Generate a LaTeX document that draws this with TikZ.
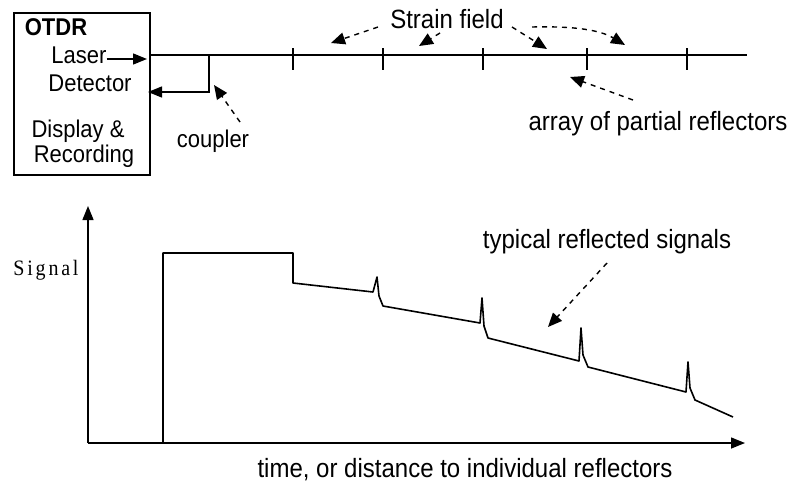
\documentclass[tikz,border=0pt]{standalone}
\usepackage{fontspec}
\setmainfont{Liberation Sans}
\newfontfamily\sigfont[LetterSpace=14]{Liberation Serif}
\usetikzlibrary{arrows.meta,positioning}
\tikzset{
lbl/.style={inner sep=0pt,anchor=base,yscale=1.1,font=\fontsize{24}{27}\selectfont},
boxlbl/.style={inner sep=0pt,anchor=base,yscale=1.1,font=\fontsize{22}{25}\selectfont},
arrow/.style={-{Triangle[length=14pt,width=11pt]},line width=1.4pt},
dashedarrow/.style={-{Triangle[length=14pt,width=12pt]},line width=1.4pt,dash pattern=on 5pt off 5pt},
trace/.style={line width=1.6pt,line join=round}
}
\begin{document}
\begin{tikzpicture}[x=1pt,y=-1pt]
\useasboundingbox (0,0) rectangle (791,485);
% OTDR unit
\node[draw,line width=1.6pt,minimum width=136pt,minimum height=162pt,anchor=north west,inner sep=0pt] (otdr) at (13,12) {};
\node[boxlbl,font=\fontsize{22}{25}\selectfont\bfseries] (title) at (56,35) {OTDR};
\node[boxlbl] (laser) at (79,63) {Laser};
\node[boxlbl] (det) at (90,91) {Detector};
\node[boxlbl] (disp) at (78,137) {Display \&};
\node[boxlbl] (rec) at (84,162) {Recording};
% fibre with reflectors
\coordinate (f0) at (149,55);
\coordinate (f1) at (747,55);
\coordinate (cp) at (209,55);
\draw[line width=1.6pt] (f0) -- (f1);
\foreach \x [count=\i] in {293,383,483,587,687}
  \draw[line width=1.4pt] (\x,48) -- (\x,70) coordinate (r\i);
\draw[arrow] (laser.east |- 0,59) -- (147,59);
\draw[arrow] (cp) |- (148,92);
\node[boxlbl] (coupler) at (213,147) {coupler};
\draw[dashedarrow] (240,122) -- (214,85);
% strain field
\node[lbl] (strain) at (447,28) {Strain field};
\draw[dashedarrow] (378,27) -- (331,43);
\draw[dashedarrow] (440,33) -- (419,46);
\draw[dashedarrow] (512,27) -- (547,49);
\draw[dashedarrow] (532,27) .. controls (575,26) and (600,30) .. (625,45);
\node[lbl] (array) at (658,130) {array of partial reflectors};
\draw[dashedarrow] (633,100) -- (570,77);
% reflected signal plot
\coordinate (o) at (88,443);
\draw[arrow] (o) -- (88,206);
\draw[arrow] (o) -- (745,443);
\node[inner sep=0pt,anchor=base,yscale=1.1,font=\sigfont\fontsize{20}{22}\selectfont] (sig) at (46,275) {Signal};
\node[lbl] (time) at (465,477) {time, or distance to individual reflectors};
\draw[trace] (163,443) -- (163,253) -- (293,253) -- (293,283)
  -- (373,292) -- (377,277) -- (379,296) -- (383,306)
  -- (480,323) -- (482,298) -- (484,326) -- (488,338)
  -- (579,361) -- (581,328) -- (583,355) -- (588,367)
  -- (686,392) -- (688,362) -- (690,388) -- (695,400)
  -- (733,417);
\node[lbl] (typ) at (607,248) {typical reflected signals};
\draw[dashedarrow] (607,263) -- (548,327);
\end{tikzpicture}
\end{document}
